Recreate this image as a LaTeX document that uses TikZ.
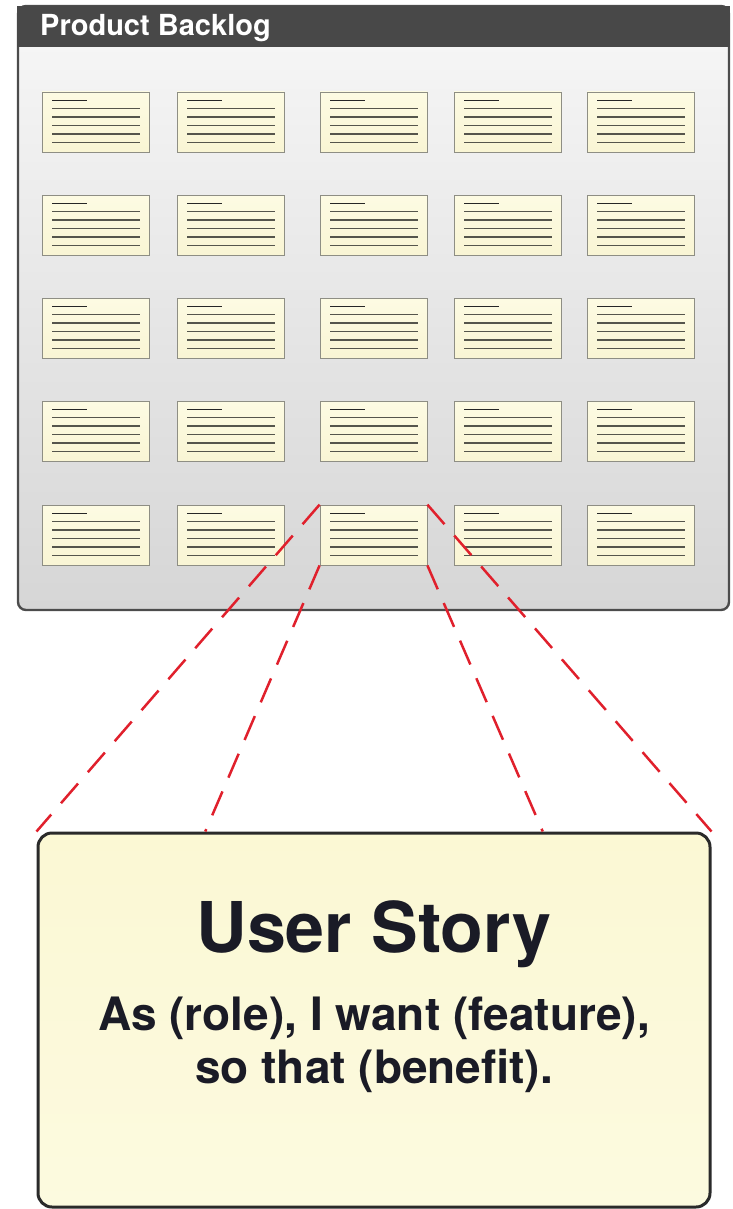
\documentclass[tikz,border=0pt]{standalone}
\usepackage{fontspec}
\setmainfont{TeX Gyre Heros}
\usetikzlibrary{calc}

\definecolor{headergray}{HTML}{484848}
\definecolor{panelborder}{HTML}{4C4C4C}
\definecolor{paneltop}{HTML}{F7F7F7}
\definecolor{panelbot}{HTML}{D6D6D6}
\definecolor{cardtop}{HTML}{FDFBE3}
\definecolor{cardmid}{HTML}{F7F2C8}
\definecolor{cardbot}{HTML}{F9F5D4}
\definecolor{cardedge}{HTML}{8E8E84}
\definecolor{cardink}{HTML}{55554C}
\definecolor{storytop}{HTML}{FBF8D4}
\definecolor{storymid}{HTML}{F6F0BE}
\definecolor{storybot}{HTML}{FCFADF}
\definecolor{storyedge}{HTML}{2A2A2A}
\definecolor{storyink}{HTML}{1A1B26}
\definecolor{linkred}{HTML}{E0202C}

\begin{document}
\begin{tikzpicture}[x=1pt,y=-1pt,
  panel/.style={draw=panelborder, line width=2.4pt, rounded corners=8pt,
    top color=paneltop, bottom color=panelbot,
    minimum width=711pt, minimum height=604pt, inner sep=0pt},
  header/.style={fill=headergray, minimum width=713pt, minimum height=41pt, inner sep=0pt},
  card/.style={draw=cardedge, line width=0.8pt, top color=cardtop, middle color=cardmid,
    bottom color=cardbot, minimum width=107pt, minimum height=60pt, inner sep=0pt},
  cardrule/.style={draw=cardink, line width=1.5pt},
  cardhead/.style={draw=black!85, line width=1.4pt},
  story/.style={draw=storyedge, line width=3pt, rounded corners=14pt,
    top color=storytop, middle color=storymid, bottom color=storybot,
    minimum width=672pt, minimum height=374pt, inner sep=0pt},
  linkline/.style={draw=linkred, line width=2.5pt, dash pattern=on 26pt off 15pt},
  titletext/.style={font=\bfseries\fontsize{29}{32}\selectfont, text=white, anchor=base west},
  storytitle/.style={font=\bfseries\fontsize{70}{80}\selectfont, text=storyink, anchor=base},
  storyline/.style={font=\bfseries\fontsize{46}{52}\selectfont, text=storyink, anchor=base}]

\useasboundingbox (0,0) rectangle (732,1209);

% backlog panel with its title bar
\node[panel] (panel) at (373.5,308) {};
\node[header] (bar) at (373.5,26.5) {};
\node[titletext, inner sep=0pt] (label) at (40,36) {Product Backlog};

% grid of story cards
\foreach \r/\y in {1/92,2/195,3/298,4/401,5/505}{
  \foreach \c/\x in {1/42,2/177,3/320,4/454,5/587}{
    \node[card] (c\r\c) at (\x+53.5,\y+30) {};
    \draw[cardhead] (\x+10,\y+8.5) -- (\x+45,\y+8.5);
    \foreach \d in {16.5,25,33.5,42,50.5}
      \draw[cardrule] (\x+10,\y+\d) -- (\x+98,\y+\d);
  }
}

% enlarged story card
\node[story] (story) at (374,1020) {};
\node[storytitle] (title) at (374,952) {User Story};
\node[storyline] (format1) at (374,1030) {As (role), I want (feature),};
\node[storyline] (format2) at (374,1083) {so that (benefit).};

% zoom lines from the selected card to the enlarged card
\draw[linkline] (c53.north west) -- (story.north west);
\draw[linkline] (c53.south west) -- ($(story.north west)!0.25!(story.north east)$);
\draw[linkline] (c53.south east) -- ($(story.north west)!0.75!(story.north east)$);
\draw[linkline] (c53.north east) -- (story.north east);
\end{tikzpicture}
\end{document}
